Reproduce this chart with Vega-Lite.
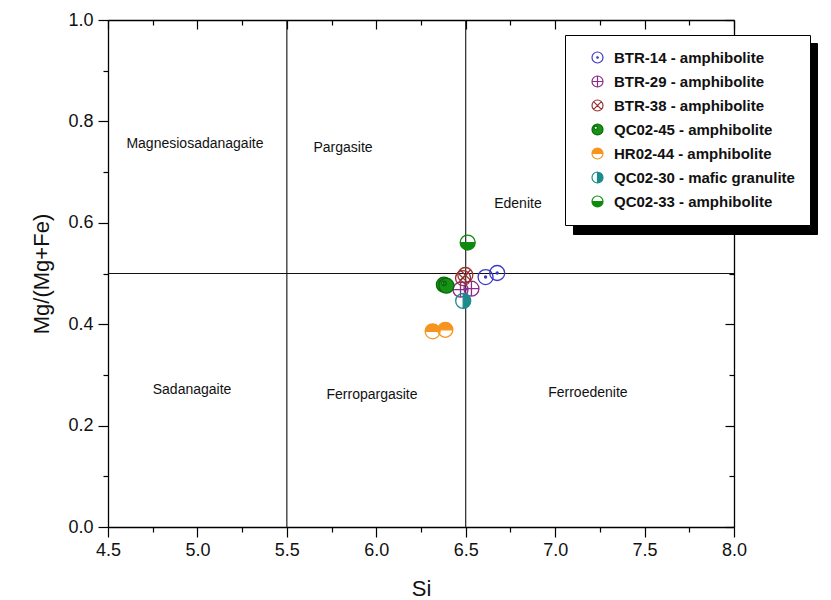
{
  "$schema": "https://vega.github.io/schema/vega-lite/v6.json",
  "width": 626,
  "height": 507,
  "autosize": {"type": "none"},
  "padding": {"left": 108, "top": 20, "right": 97, "bottom": 73},
  "background": "white",
  "config": {
    "view": {"stroke": null},
    "font": "Liberation Sans",
    "axis": {
      "grid": false,
      "domainColor": "black",
      "domainWidth": 1.3,
      "tickColor": "black",
      "tickWidth": 1.2,
      "labelFont": "Liberation Sans",
      "labelFontSize": 18,
      "labelColor": "#111",
      "titleFont": "Liberation Sans",
      "titleFontSize": 22,
      "titleFontWeight": "normal",
      "titleColor": "#111",
      "labelOverlap": false,
      "labelFlush": false,
      "labelBound": false
    }
  },
  "resolve": {"axis": {"x": "independent", "y": "independent"}},
  "layer": [
    {
      "data": {"values": [{"si": 5.5}, {"si": 6.5}]},
      "mark": {"type": "rule", "stroke": "#111", "strokeWidth": 1.1},
      "encoding": {
        "x": {
          "field": "si", "type": "quantitative",
          "scale": {"domain": [4.5, 8.0], "nice": false, "zero": false},
          "axis": {
            "orient": "bottom",
            "title": "Si",
            "titlePadding": 19,
            "values": [4.5, 4.75, 5.0, 5.25, 5.5, 5.75, 6.0, 6.25, 6.5, 6.75, 7.0, 7.25, 7.5, 7.75, 8.0],
            "labelExpr": "(datum.value*2) % 1 == 0 ? format(datum.value, '.1f') : ''",
            "tickSize": {"condition": {"test": "(datum.value*2) % 1 == 0", "value": 10}, "value": 5},
            "labelPadding": 4
          }
        }
      }
    },
    {
      "data": {"values": [{"mg": 0.5}]},
      "mark": {"type": "rule", "stroke": "#111", "strokeWidth": 1.1},
      "encoding": {
        "y": {
          "field": "mg", "type": "quantitative",
          "scale": {"domain": [0, 1.0], "nice": false, "zero": false},
          "axis": {
            "orient": "left",
            "title": "Mg/(Mg+Fe)",
            "titlePadding": 14,
            "values": [0, 0.1, 0.2, 0.3, 0.4, 0.5, 0.6, 0.7, 0.8, 0.9, 1.0],
            "labelExpr": "abs(datum.value*5 - round(datum.value*5)) < 0.001 ? format(datum.value, '.1f') : ''",
            "tickSize": {"condition": {"test": "abs(datum.value*5 - round(datum.value*5)) < 0.001", "value": 10}, "value": 5},
            "labelPadding": 5
          }
        }
      }
    },
    {
      "data": {"values": [
        {"name": "Magnesiosadanagaite", "lx": 4.986, "ly": 0.756},
        {"name": "Pargasite", "lx": 5.814, "ly": 0.748},
        {"name": "Edenite", "lx": 6.792, "ly": 0.637},
        {"name": "Sadanagaite", "lx": 4.970, "ly": 0.271},
        {"name": "Ferropargasite", "lx": 5.976, "ly": 0.261},
        {"name": "Ferroedenite", "lx": 7.183, "ly": 0.265}
      ]},
      "mark": {"type": "text", "font": "Liberation Sans", "fontSize": 14, "color": "#111", "align": "center", "baseline": "middle"},
      "encoding": {
        "x": {"field": "lx", "type": "quantitative", "axis": null},
        "y": {"field": "ly", "type": "quantitative", "axis": null},
        "text": {"field": "name"}
      }
    },
    {
      "data": {"values": [
        {"sample": "BTR-14 - amphibolite", "Si": 6.611, "Mg": 0.493},
        {"sample": "BTR-14 - amphibolite", "Si": 6.676, "Mg": 0.501},
        {"sample": "BTR-29 - amphibolite", "Si": 6.471, "Mg": 0.468},
        {"sample": "BTR-29 - amphibolite", "Si": 6.532, "Mg": 0.470},
        {"sample": "BTR-38 - amphibolite", "Si": 6.485, "Mg": 0.491},
        {"sample": "BTR-38 - amphibolite", "Si": 6.498, "Mg": 0.497},
        {"sample": "QC02-45 - amphibolite", "Si": 6.378, "Mg": 0.478},
        {"sample": "QC02-45 - amphibolite", "Si": 6.392, "Mg": 0.476},
        {"sample": "HR02-44 - amphibolite", "Si": 6.315, "Mg": 0.386},
        {"sample": "HR02-44 - amphibolite", "Si": 6.386, "Mg": 0.389},
        {"sample": "QC02-30 - mafic granulite", "Si": 6.486, "Mg": 0.446},
        {"sample": "QC02-33 - amphibolite", "Si": 6.511, "Mg": 0.561}
      ]},
      "mark": {"type": "point", "filled": true, "size": 225, "strokeWidth": 1.3, "opacity": 1},
      "encoding": {
        "x": {
          "field": "Si", "type": "quantitative",
          "axis": {
            "orient": "top", "title": null, "labels": false,
            "values": [4.5, 4.75, 5.0, 5.25, 5.5, 5.75, 6.0, 6.25, 6.5, 6.75, 7.0, 7.25, 7.5, 7.75, 8.0],
            "tickSize": {"condition": {"test": "(datum.value*2) % 1 == 0", "value": -9}, "value": -5}
          }
        },
        "y": {
          "field": "Mg", "type": "quantitative",
          "axis": {
            "orient": "right", "title": null, "labels": false,
            "values": [0, 0.1, 0.2, 0.3, 0.4, 0.5, 0.6, 0.7, 0.8, 0.9, 1.0],
            "tickSize": {"condition": {"test": "abs(datum.value*5 - round(datum.value*5)) < 0.001", "value": -9}, "value": -5}
          }
        },
        "color": {
          "field": "sample", "type": "nominal",
          "scale": {
            "domain": ["BTR-14 - amphibolite", "BTR-29 - amphibolite", "BTR-38 - amphibolite", "QC02-45 - amphibolite", "HR02-44 - amphibolite", "QC02-30 - mafic granulite", "QC02-33 - amphibolite"],
            "range": ["#3a3ac8", "#8e2a8e", "#963232", "#169216", "#f7941d", "#1b8b8b", "#0f8a0f"]
          },
          "legend": {
            "orient": "none", "legendX": 457, "legendY": 15, "title": null,
            "fillColor": "white", "strokeColor": "black", "padding": 15,
            "symbolSize": 121, "symbolStrokeWidth": 1.2, "symbolOffset": 10,
            "labelFont": "Liberation Sans", "labelFontWeight": "bold", "labelFontSize": 15,
            "labelColor": "#111", "labelOffset": 9, "rowPadding": 7, "zindex": 4, "labelLimit": 400
          }
        },
        "stroke": {
          "field": "sample", "type": "nominal",
          "scale": {
            "domain": ["BTR-14 - amphibolite", "BTR-29 - amphibolite", "BTR-38 - amphibolite", "QC02-45 - amphibolite", "HR02-44 - amphibolite", "QC02-30 - mafic granulite", "QC02-33 - amphibolite"],
            "range": ["#3a3ac8", "#8e2a8e", "#963232", "#0a6a0a", "#f7941d", "#1b8b8b", "#0f8a0f"]
          }
        },
        "shape": {
          "field": "sample", "type": "nominal",
          "scale": {
            "domain": ["BTR-14 - amphibolite", "BTR-29 - amphibolite", "BTR-38 - amphibolite", "QC02-45 - amphibolite", "HR02-44 - amphibolite", "QC02-30 - mafic granulite", "QC02-33 - amphibolite"],
            "range": [
              "M-1,0A1,1,0,1,1,1,0A1,1,0,1,1,-1,0Z M-1,0A1,1,0,1,0,1,0A1,1,0,1,0,-1,0Z M-0.14,0A0.14,0.14,0,1,1,0.14,0A0.14,0.14,0,1,1,-0.14,0Z",
              "M-1,0A1,1,0,1,1,1,0A1,1,0,1,1,-1,0Z M-1,0A1,1,0,1,0,1,0A1,1,0,1,0,-1,0Z M-1,0L1,0 M0,-1L0,1",
              "M-1,0A1,1,0,1,1,1,0A1,1,0,1,1,-1,0Z M-1,0A1,1,0,1,0,1,0A1,1,0,1,0,-1,0Z M-0.71,-0.71L0.71,0.71 M-0.71,0.71L0.71,-0.71",
              "M-1,0A1,1,0,1,1,1,0A1,1,0,1,1,-1,0Z M-0.62,-0.3A0.3,0.3,0,1,0,-0.02,-0.3A0.3,0.3,0,1,0,-0.62,-0.3Z",
              "M-1,0A1,1,0,1,1,1,0A1,1,0,1,1,-1,0Z M-1,0A1,1,0,0,0,1,0Z",
              "M-1,0A1,1,0,1,1,1,0A1,1,0,1,1,-1,0Z M0,-1A1,1,0,0,0,0,1Z",
              "M-1,0A1,1,0,1,1,1,0A1,1,0,1,1,-1,0Z M1,0A1,1,0,0,0,-1,0Z"
            ]
          }
        },
        "size": {
          "field": "sample", "type": "ordinal",
          "scale": {"range": [225, 225]},
          "legend": {
            "orient": "none", "legendX": 465, "legendY": 23, "title": null,
            "fillColor": "black", "strokeColor": "black", "padding": 15,
            "symbolSize": 121, "symbolOpacity": 0, "symbolOffset": 188, "symbolType": "circle",
            "labelFont": "Liberation Sans", "labelFontWeight": "bold", "labelFontSize": 15,
            "labelExpr": "'\u00a0\u00a0\u00a0\u00a0\u00a0\u00a0\u00a0\u00a0\u00a0\u00a0\u00a0\u00a0\u00a0\u00a0\u00a0\u00a0\u00a0\u00a0\u00a0\u00a0\u00a0\u00a0\u00a0\u00a0\u00a0\u00a0\u00a0\u00a0\u00a0\u00a0\u00a0\u00a0\u00a0\u00a0\u00a0\u00a0\u00a0\u00a0\u00a0\u00a0\u00a0\u00a0\u00a0\u00a0'",
            "labelColor": "black", "labelOpacity": 0, "labelOffset": 9, "rowPadding": 7, "zindex": 3, "labelLimit": 400
          }
        }
      }
    }
  ]
}
